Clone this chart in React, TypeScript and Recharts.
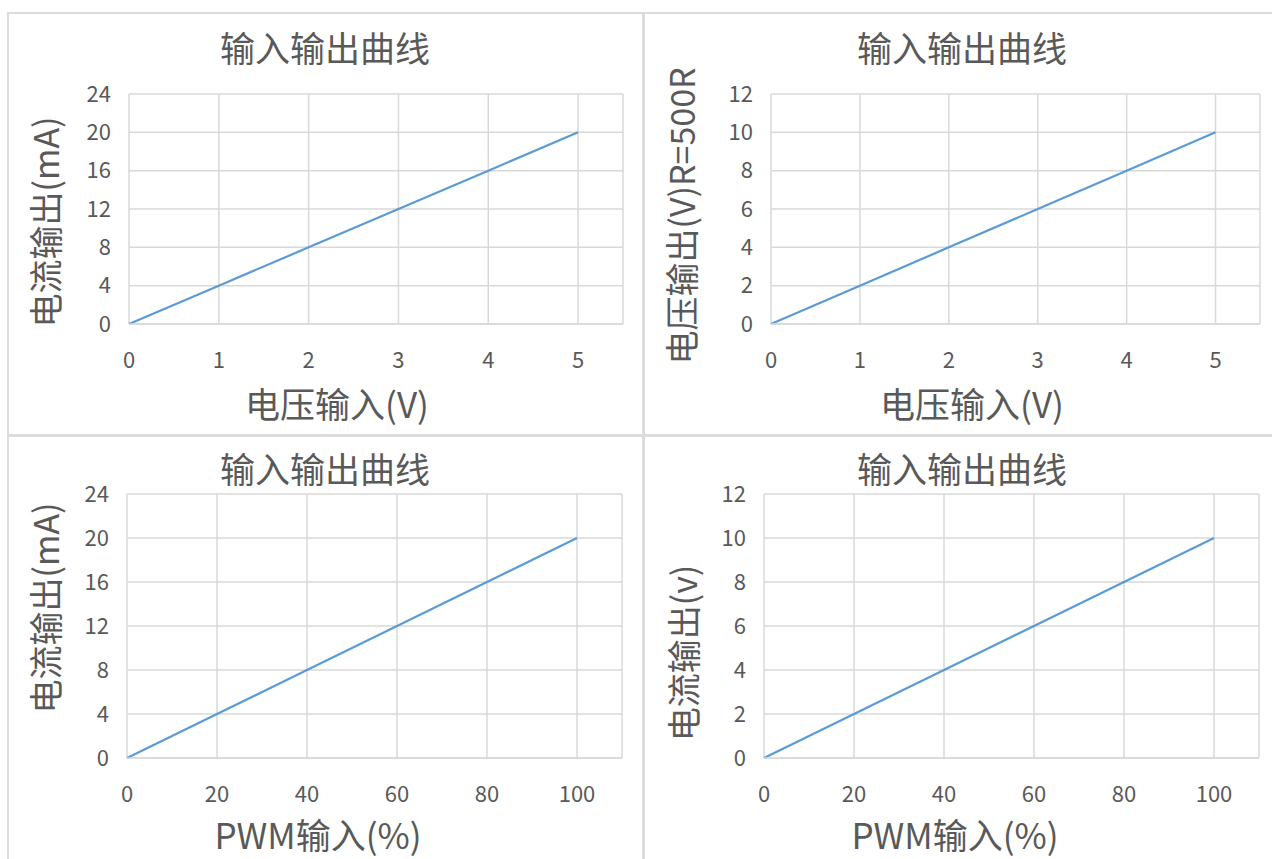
import { LineChart, Line, XAxis, YAxis, CartesianGrid } from 'recharts';

const voltIn = [0, 1, 2, 3, 4, 5];
const currentFromVolt = [0, 4, 8, 12, 16, 20];
const voltFromVolt = [0, 2, 4, 6, 8, 10];

const pwmIn = [0, 20, 40, 60, 80, 100];
const currentFromPwm = [0, 4, 8, 12, 16, 20];
const voltFromPwm = [0, 2, 4, 6, 8, 10];

const voltTicks = [0, 1, 2, 3, 4, 5];
const pwmTicks = [0, 20, 40, 60, 80, 100];
const mATicks = [0, 4, 8, 12, 16, 20, 24];
const vTicks = [0, 2, 4, 6, 8, 10, 12];

const TITLE = '输入输出曲线';
const FONT = '"Noto Sans CJK SC", "Noto Sans", sans-serif';
const TEXT = '#595959';
const GRID = '#d9d9d9';
const LINE = '#5B9BD5';

const YW = 70;
const MT = 20;
const MR = 12;
const XH = 60;

interface PanelProps {
  xs: number[];
  ys: number[];
  xTicks: number[];
  yTicks: number[];
  xMax: number;
  plot: { x0: number; x1: number; y0: number; y1: number };
  titleAt: [number, number];
  xLabel: string;
  xLabelAt: [number, number];
  yLabel: string;
  yLabelAt: [number, number];
}

function Panel({ xs, ys, xTicks, yTicks, xMax, plot, titleAt, xLabel, xLabelAt, yLabel, yLabelAt }: PanelProps) {
  const data = xs.map((x, i) => ({ x, y: ys[i] }));
  const width = YW + (plot.x1 - plot.x0) + MR;
  const height = MT + (plot.y1 - plot.y0) + XH;
  const big = { position: 'absolute' as const, fontFamily: FONT, fontSize: 34, color: TEXT, whiteSpace: 'nowrap' as const, lineHeight: 1 };
  return (
    <>
      <div style={{ ...big, fontSize: 35, left: titleAt[0], top: titleAt[1], transform: 'translate(-50%, -50%)' }}>{TITLE}</div>
      <div style={{ ...big, fontSize: 35, left: xLabelAt[0], top: xLabelAt[1], transform: 'translate(-50%, -50%)' }}>{xLabel}</div>
      <div style={{ ...big, left: yLabelAt[0], top: yLabelAt[1], transform: 'translate(-50%, -50%) rotate(-90deg)' }}>{yLabel}</div>
      <div style={{ position: 'absolute', left: plot.x0 - YW, top: plot.y0 - MT }}>
        <LineChart width={width} height={height} data={data} margin={{ top: MT, right: MR, left: 0, bottom: 0 }}>
          <CartesianGrid stroke={GRID} strokeWidth={1.5} />
          <XAxis
            dataKey="x"
            type="number"
            domain={[0, xMax]}
            ticks={xTicks}
            interval={0}
            height={XH}
            axisLine={{ stroke: GRID, strokeWidth: 1.5 }}
            tickLine={false}
            tickMargin={22}
            tick={{ fontSize: 22, fill: TEXT, fontFamily: FONT }}
          />
          <YAxis
            type="number"
            domain={[0, yTicks[yTicks.length - 1]]}
            ticks={yTicks}
            interval={0}
            width={YW}
            axisLine={false}
            tickLine={false}
            tickMargin={12}
            tick={{ fontSize: 22, fill: TEXT, fontFamily: FONT }}
          />
          <Line type="linear" dataKey="y" stroke={LINE} strokeWidth={2.2} dot={false} isAnimationActive={false} />
        </LineChart>
      </div>
    </>
  );
}

export default function App() {
  const sep = { position: 'absolute' as const, background: '#dcdcdc' };
  return (
    <div style={{ position: 'absolute', left: 0, top: 0, width: 1272, height: 859, background: '#fff', overflow: 'hidden' }}>
      <div style={{ ...sep, left: 7, top: 12, width: 1265, height: 2 }} />
      <div style={{ ...sep, left: 7, top: 12, width: 2, height: 847 }} />
      <div style={{ ...sep, left: 642, top: 12, width: 3, height: 847 }} />
      <div style={{ ...sep, left: 7, top: 434, width: 1265, height: 3 }} />

      <Panel
        xs={voltIn} ys={currentFromVolt} xTicks={voltTicks} yTicks={mATicks} xMax={5.5}
        plot={{ x0: 129, x1: 623, y0: 94, y1: 324 }}
        titleAt={[325, 46]}
        xLabel="电压输入(V)" xLabelAt={[337, 402]}
        yLabel="电流输出(mA)" yLabelAt={[45, 222]}
      />
      <Panel
        xs={voltIn} ys={voltFromVolt} xTicks={voltTicks} yTicks={vTicks} xMax={5.5}
        plot={{ x0: 771, x1: 1260, y0: 94, y1: 324 }}
        titleAt={[962, 46]}
        xLabel="电压输入(V)" xLabelAt={[972, 402]}
        yLabel="电压输出(V)R=500R" yLabelAt={[681, 216]}
      />
      <Panel
        xs={pwmIn} ys={currentFromPwm} xTicks={pwmTicks} yTicks={mATicks} xMax={110}
        plot={{ x0: 127, x1: 622, y0: 494, y1: 758 }}
        titleAt={[325, 467]}
        xLabel="PWM输入(%)" xLabelAt={[318, 833]}
        yLabel="电流输出(mA)" yLabelAt={[45, 608]}
      />
      <Panel
        xs={pwmIn} ys={voltFromPwm} xTicks={pwmTicks} yTicks={vTicks} xMax={110}
        plot={{ x0: 764, x1: 1259, y0: 494, y1: 758 }}
        titleAt={[962, 467]}
        xLabel="PWM输入(%)" xLabelAt={[955, 833]}
        yLabel="电流输出(v)" yLabelAt={[683, 653]}
      />
    </div>
  );
}
